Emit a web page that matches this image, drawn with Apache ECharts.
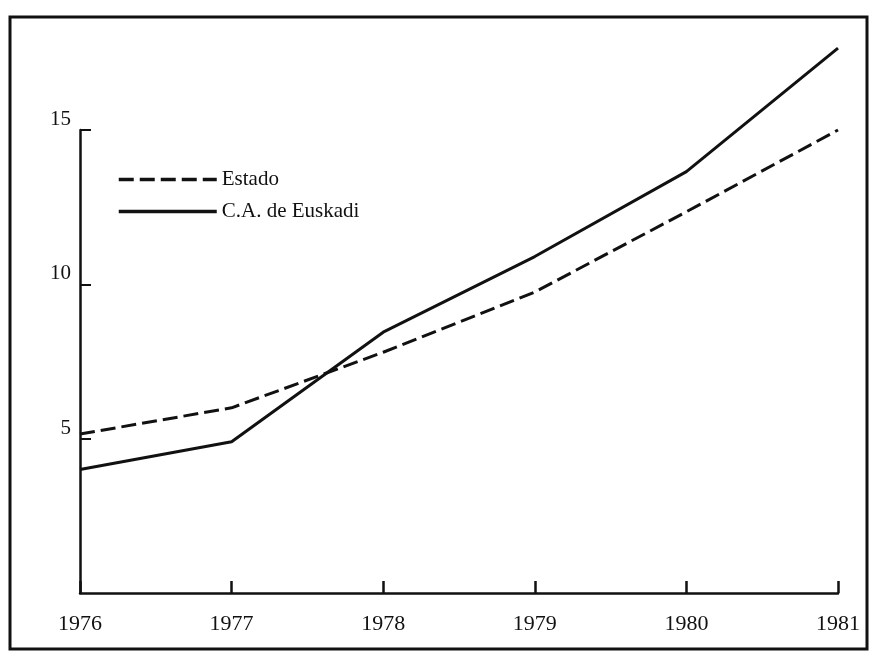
<!DOCTYPE html>
<html>
<head>
<meta charset="utf-8">
<script src="https://cdn.jsdelivr.net/npm/echarts@6/dist/echarts.min.js"></script>
<style>
  html, body { margin: 0; padding: 0; background: #fff; }
  #chart { width: 872px; height: 652px; }
</style>
</head>
<body>
<div id="chart"></div>
<script>
const years = ['1976', '1977', '1978', '1979', '1980', '1981']
const estado = [5.15, 6.0, 7.8, 9.75, 12.35, 15.0]
const euskadi = [4.0, 4.9, 8.45, 10.9, 13.65, 17.65]

const serif = '"Liberation Serif", "DejaVu Serif", serif'

const chart = echarts.init(document.getElementById('chart'))

const option = {
  animation: false,
  backgroundColor: '#fff',
  grid: {
    left: 80,
    right: 34,
    top: 130,
    bottom: 59
  },
  legend: {
    orient: 'vertical',
    left: 112,
    top: 164,
    itemWidth: 98,
    itemHeight: 14,
    itemGap: 11,
    itemStyle: { opacity: 0 },
    lineStyle: { width: 3.5 },
    textStyle: {
      fontFamily: serif,
      fontSize: 21,
      color: '#111'
    },
    data: ['Estado', 'C.A. de Euskadi']
  },
  xAxis: {
    type: 'category',
    data: years,
    boundaryGap: false,
    axisLine: { lineStyle: { color: '#111', width: 2.5 } },
    axisTick: {
      alignWithLabel: true,
      inside: true,
      length: 12,
      lineStyle: { color: '#111', width: 2.5 }
    },
    axisLabel: {
      color: '#111',
      fontFamily: serif,
      fontSize: 22,
      margin: 20
    }
  },
  yAxis: {
    type: 'value',
    min: 0,
    max: 15,
    interval: 5,
    splitLine: { show: false },
    axisLine: { show: true, lineStyle: { color: '#111', width: 2.5 } },
    axisTick: {
      show: true,
      inside: true,
      length: 11,
      lineStyle: { color: '#111', width: 2 }
    },
    axisLabel: {
      showMinLabel: false,
      color: '#111',
      fontFamily: serif,
      fontSize: 21,
      margin: 9,
      verticalAlign: 'bottom'
    }
  },
  series: [
    {
      name: 'Estado',
      type: 'line',
      data: estado,
      symbol: 'none',
      clip: false,
      itemStyle: { color: '#111' },
      lineStyle: { color: '#111', width: 3, type: [15, 6] }
    },
    {
      name: 'C.A. de Euskadi',
      type: 'line',
      data: euskadi,
      symbol: 'none',
      clip: false,
      itemStyle: { color: '#111' },
      lineStyle: { color: '#111', width: 3 }
    }
  ],
  graphic: [
    {
      type: 'rect',
      shape: { x: 10, y: 17, width: 857, height: 632 },
      style: { fill: null, stroke: '#111', lineWidth: 3 },
      silent: true
    }
  ]
}

chart.setOption(option)
</script>
</body>
</html>
